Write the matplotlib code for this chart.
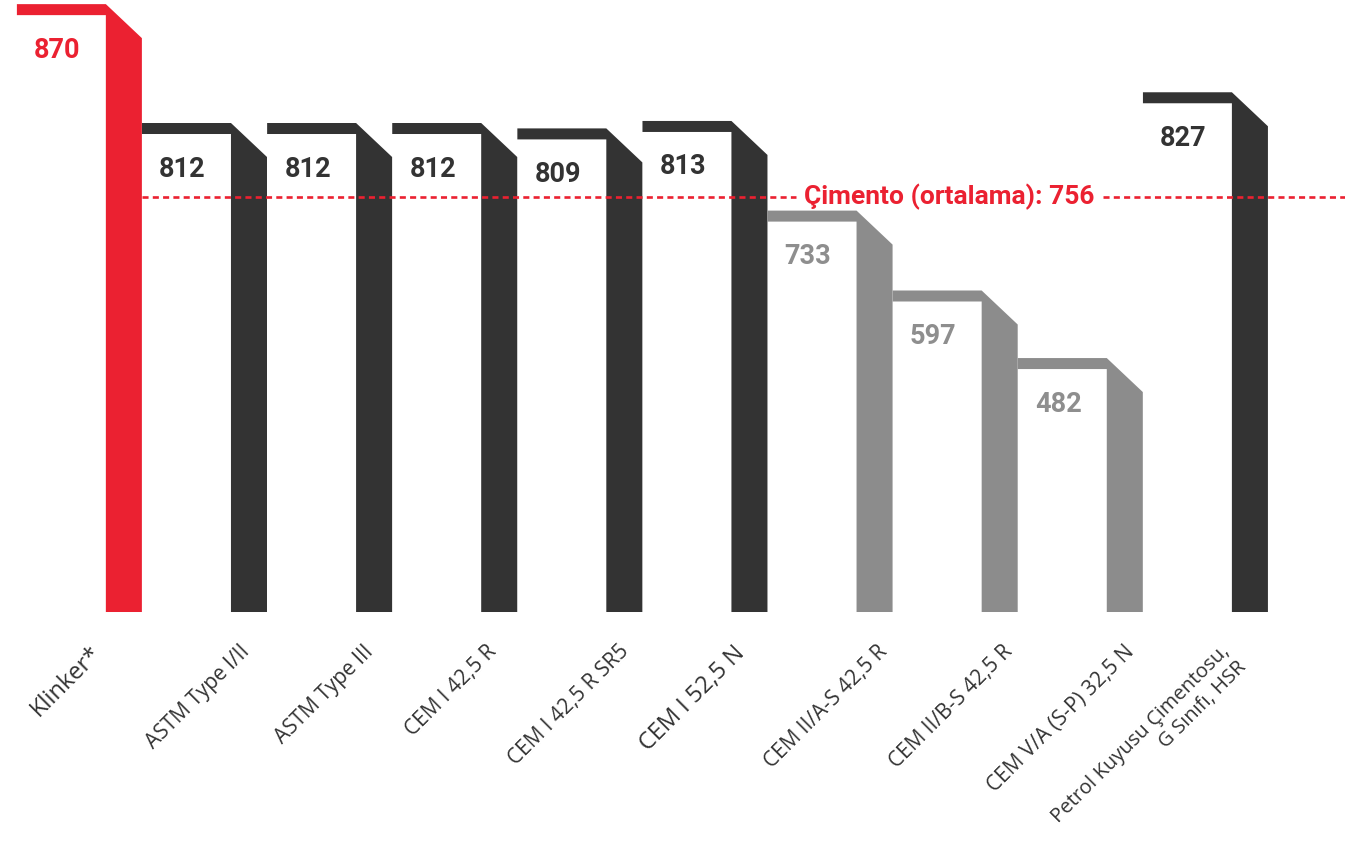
import numpy as np
import matplotlib
matplotlib.use('Agg')
import matplotlib.pyplot as plt
from matplotlib.patches import Polygon
from matplotlib.transforms import IdentityTransform

categories = ['Klinker*', 'ASTM Type I/II', 'ASTM Type III', 'CEM I 42,5 R',
              'CEM I 42,5 R SR5', 'CEM I 52,5 N', 'CEM II/A-S 42,5 R',
              'CEM II/B-S 42,5 R', 'CEM V/A (S-P) 32,5 N',
              'Petrol Kuyusu Çimentosu,\nG Sınıfı, HSR']
values = [870, 812, 812, 812, 809, 813, 733, 597, 482, 827]
groups = ['klinker', 'dark', 'dark', 'dark', 'dark', 'dark', 'gray', 'gray', 'gray', 'dark']
average = 756
average_label = 'Çimento (ortalama): 756'

# the original infographic is not to a linear scale, so use a piecewise axis
scale_vals = [-500, 0, 482, 756, 810, 870, 900]
scale_pos = [-263.5, 0, 254, 415, 485, 608, 670]


def forward(v):
    return np.interp(v, scale_vals, scale_pos)


def inverse(p):
    return np.interp(p, scale_pos, scale_vals)


red = '#EB2131'
bar_colors = {'klinker': red, 'dark': '#333333', 'gray': '#8C8C8C'}
num_colors = {'klinker': red, 'dark': '#333333', 'gray': '#8E8E8E'}
# label tweaks (size, horizontal nudge in px) -- hand placed in the original
label_size = [17, 15, 15, 15, 15, 17, 15, 15, 15, 14.5]
label_dx = [-35, -10, -11, -13, -6, -17, 2, 2, -1, -30]

fig = plt.figure(figsize=(13.45, 8.47), dpi=100)
ax = fig.add_axes([0, 0, 1, 1])
ax.set_xlim(-0.99, 9.76)
ax.set_yscale('function', functions=(forward, inverse))
ax.set_ylim(-446, 872)
ax.axis('off')

bar_w = 0.288   # body width (category units)
cap_w = 0.711   # length of the top cap to the left
cap_h = 11      # px
bevel = 34      # px

to_px = ax.transData.transform
for i, (v, g) in enumerate(zip(values, groups)):
    xl, top = to_px((i - bar_w / 2, v))
    xr, base = to_px((i + bar_w / 2, 0))
    xc = to_px((i - bar_w / 2 - cap_w, v))[0]
    verts = [(xc, top), (xl, top), (xr, top - bevel), (xr, base),
             (xl, base), (xl, top - cap_h), (xc, top - cap_h)]
    ax.add_patch(Polygon(verts, closed=True, transform=IdentityTransform(),
                         facecolor=bar_colors[g], edgecolor='none', zorder=2))

    ax.annotate(str(v), xy=(i - bar_w / 2 - cap_w / 2, v), xytext=(-4, -46),
                textcoords='offset pixels', ha='center', va='center',
                fontsize=19.5, fontweight='bold', color=num_colors[g],
                family=['Roboto', 'DejaVu Sans'])

    ax.annotate(categories[i], xy=(i, 0), xytext=(label_dx[i], -29),
                textcoords='offset pixels', rotation=45, rotation_mode='anchor',
                ha='right', va='top', multialignment='right',
                fontsize=label_size[i], color='#333333',
                family=['Open Sans', 'DejaVu Sans'], annotation_clip=False)

# average line, broken around its label
avg_txt = ax.text(6.6, average, average_label, ha='center', va='center',
                  fontsize=19, fontweight='bold', color=red,
                  family=['Roboto', 'DejaVu Sans'], zorder=4)
bb = avg_txt.get_window_extent(renderer=fig.canvas.get_renderer())
inv = ax.transData.inverted()
gap_l = inv.transform((bb.x0 - 8, 0))[0]
gap_r = inv.transform((bb.x1 + 8, 0))[0]
ax.hlines([average, average], [bar_w / 2, gap_r], [gap_l, 9.76], colors=red,
          linewidth=1.9, linestyles=(0, (2.3, 1.6)), zorder=3)

fig.savefig('out.png', dpi=100)
